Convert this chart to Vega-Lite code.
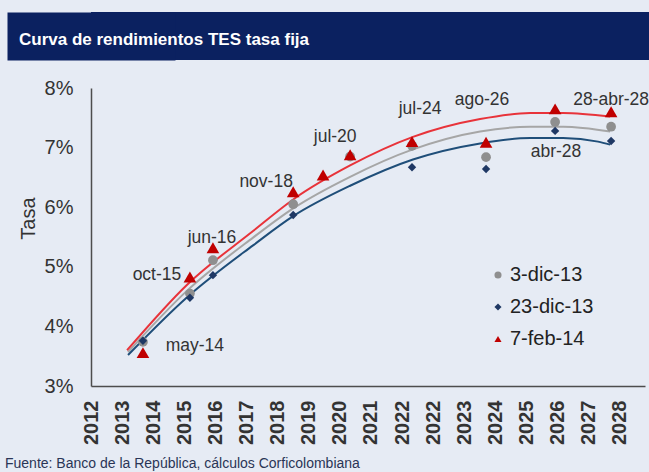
{
  "$schema": "https://vega.github.io/schema/vega-lite/v6.json",
  "background": "#e6ebf4",
  "padding": {"left": 5, "top": 12, "right": 0, "bottom": 0},
  "config": {"font": "Liberation Sans", "view": {"stroke": null}, "axis": {"labelOverlap": false}},
  "datasets": {
    "curvas": [
      {"serie": "3-dic-13", "x": 2013.19, "tasa": 3.57},
      {"serie": "3-dic-13", "x": 2015.09, "tasa": 4.60},
      {"serie": "3-dic-13", "x": 2017.21, "tasa": 5.49},
      {"serie": "3-dic-13", "x": 2018.50, "tasa": 5.98},
      {"serie": "3-dic-13", "x": 2020.33, "tasa": 6.51},
      {"serie": "3-dic-13", "x": 2022.35, "tasa": 6.97},
      {"serie": "3-dic-13", "x": 2024.51, "tasa": 7.27},
      {"serie": "3-dic-13", "x": 2026.12, "tasa": 7.35},
      {"serie": "3-dic-13", "x": 2027.18, "tasa": 7.35},
      {"serie": "3-dic-13", "x": 2028.69, "tasa": 7.27},
      {"serie": "23-dic-13", "x": 2013.19, "tasa": 3.52},
      {"serie": "23-dic-13", "x": 2015.09, "tasa": 4.49},
      {"serie": "23-dic-13", "x": 2017.21, "tasa": 5.36},
      {"serie": "23-dic-13", "x": 2018.50, "tasa": 5.85},
      {"serie": "23-dic-13", "x": 2020.33, "tasa": 6.36},
      {"serie": "23-dic-13", "x": 2022.35, "tasa": 6.80},
      {"serie": "23-dic-13", "x": 2024.51, "tasa": 7.07},
      {"serie": "23-dic-13", "x": 2026.12, "tasa": 7.16},
      {"serie": "23-dic-13", "x": 2027.18, "tasa": 7.16},
      {"serie": "23-dic-13", "x": 2028.30, "tasa": 7.10},
      {"serie": "23-dic-13", "x": 2028.69, "tasa": 7.05},
      {"serie": "7-feb-14", "x": 2013.16, "tasa": 3.60},
      {"serie": "7-feb-14", "x": 2015.09, "tasa": 4.70},
      {"serie": "7-feb-14", "x": 2017.21, "tasa": 5.60},
      {"serie": "7-feb-14", "x": 2018.50, "tasa": 6.13},
      {"serie": "7-feb-14", "x": 2020.33, "tasa": 6.70},
      {"serie": "7-feb-14", "x": 2022.35, "tasa": 7.18},
      {"serie": "7-feb-14", "x": 2024.51, "tasa": 7.48},
      {"serie": "7-feb-14", "x": 2026.12, "tasa": 7.58},
      {"serie": "7-feb-14", "x": 2027.18, "tasa": 7.58},
      {"serie": "7-feb-14", "x": 2028.69, "tasa": 7.52}
    ],
    "puntos": [
      {"serie": "3-dic-13", "x": 2013.67, "tasa": 3.74},
      {"serie": "3-dic-13", "x": 2015.18, "tasa": 4.55},
      {"serie": "3-dic-13", "x": 2015.92, "tasa": 5.11},
      {"serie": "3-dic-13", "x": 2018.50, "tasa": 6.05},
      {"serie": "3-dic-13", "x": 2020.33, "tasa": 6.85},
      {"serie": "3-dic-13", "x": 2022.32, "tasa": 7.03},
      {"serie": "3-dic-13", "x": 2024.70, "tasa": 6.84},
      {"serie": "3-dic-13", "x": 2026.92, "tasa": 7.43},
      {"serie": "3-dic-13", "x": 2028.72, "tasa": 7.35},
      {"serie": "23-dic-13", "x": 2013.67, "tasa": 3.76},
      {"serie": "23-dic-13", "x": 2015.18, "tasa": 4.48},
      {"serie": "23-dic-13", "x": 2015.92, "tasa": 4.86},
      {"serie": "23-dic-13", "x": 2018.50, "tasa": 5.87},
      {"serie": "23-dic-13", "x": 2022.32, "tasa": 6.67},
      {"serie": "23-dic-13", "x": 2024.70, "tasa": 6.64},
      {"serie": "23-dic-13", "x": 2026.92, "tasa": 7.28},
      {"serie": "23-dic-13", "x": 2028.72, "tasa": 7.11},
      {"serie": "7-feb-14", "x": 2013.67, "tasa": 3.56},
      {"serie": "7-feb-14", "x": 2015.18, "tasa": 4.83},
      {"serie": "7-feb-14", "x": 2015.92, "tasa": 5.32},
      {"serie": "7-feb-14", "x": 2018.50, "tasa": 6.26},
      {"serie": "7-feb-14", "x": 2019.46, "tasa": 6.54},
      {"serie": "7-feb-14", "x": 2020.33, "tasa": 6.88},
      {"serie": "7-feb-14", "x": 2022.32, "tasa": 7.10},
      {"serie": "7-feb-14", "x": 2024.70, "tasa": 7.09},
      {"serie": "7-feb-14", "x": 2026.92, "tasa": 7.65},
      {"serie": "7-feb-14", "x": 2028.72, "tasa": 7.60}
    ],
    "etiquetas": [
      {"etiqueta": "may-14", "x": 2015.34, "tasa": 3.67},
      {"etiqueta": "oct-15", "x": 2014.12, "tasa": 4.86},
      {"etiqueta": "jun-16", "x": 2015.89, "tasa": 5.48},
      {"etiqueta": "nov-18", "x": 2017.63, "tasa": 6.42},
      {"etiqueta": "jul-20", "x": 2019.85, "tasa": 7.18},
      {"etiqueta": "jul-24", "x": 2022.58, "tasa": 7.64},
      {"etiqueta": "ago-26", "x": 2024.57, "tasa": 7.80},
      {"etiqueta": "abr-28", "x": 2026.95, "tasa": 6.93},
      {"etiqueta": "28-abr-28", "x": 2028.72, "tasa": 7.80}
    ]
  },
  "spacing": 13,
  "resolve": {
    "scale": {"fill": "independent", "shape": "independent"},
    "legend": {"fill": "independent", "shape": "independent"}
  },
  "vconcat": [
    {
      "width": 558,
      "height": 48,
      "view": {"fill": "#0b2160", "stroke": null},
      "data": {"values": [{}]},
      "mark": {"type": "text", "text": ""},
      "encoding": {
        "y": {
          "datum": 0,
          "type": "quantitative",
          "scale": {"domain": [0, 1]},
          "axis": {
            "labels": false,
            "ticks": false,
            "grid": false,
            "title": null,
            "domainColor": "#0b2160",
            "domainWidth": 168,
            "domainCap": "butt"
          }
        }
      },
      "title": {
        "text": "Curva de rendimientos TES tasa fija",
        "orient": "top",
        "anchor": "start",
        "frame": "group",
        "offset": -37,
        "dx": -72,
        "color": "#ffffff",
        "fontSize": 17,
        "fontWeight": "bold",
        "font": "Liberation Sans",
        "zindex": 2
      }
    },
    {
      "width": 554,
      "height": 298,
      "title": {
        "text": "Fuente: Banco de la República, cálculos Corficolombiana",
        "orient": "bottom",
        "anchor": "start",
        "frame": "group",
        "dx": -86,
        "offset": 13,
        "fontSize": 14,
        "fontWeight": "normal",
        "color": "#2a3556",
        "font": "Liberation Sans"
      },
      "encoding": {
        "x": {
          "field": "x", "type": "quantitative",
          "scale": {"domain": [2012, 2029.81], "nice": false, "zero": false},
          "axis": {
            "values": [2012, 2013, 2014, 2015, 2016, 2017, 2018, 2019, 2020, 2021, 2022, 2023, 2024, 2025, 2026, 2027, 2028, 2029],
            "labelExpr": "datum.value > 2022 ? '' + (datum.value - 1) : '' + datum.value",
            "labelAngle": 270,
            "labelFontSize": 20,
            "labelFontWeight": "bold",
            "labelColor": "#333333",
            "labelPadding": 14,
            "ticks": false,
            "grid": false,
            "domainColor": "#4d4d4d",
            "domainWidth": 1.5,
            "title": null,
            "labelOverlap": false,
            "labelSeparation": 0,
            "labelFlush": false
          }
        },
        "y": {
          "field": "tasa", "type": "quantitative",
          "scale": {"domain": [3, 8], "nice": false, "zero": false},
          "axis": {
            "values": [3, 4, 5, 6, 7, 8],
            "labelExpr": "datum.value + '%'",
            "labelFontSize": 20,
            "labelColor": "#333333",
            "labelPadding": 18,
            "ticks": false,
            "grid": false,
            "domainColor": "#4d4d4d",
            "domainWidth": 1.5,
            "title": "Tasa",
            "titleFontSize": 20,
            "titleFontWeight": "normal",
            "titleColor": "#333333",
            "titlePadding": 6,
            "titleY": 130,
            "labelFlush": false,
            "labelOverlap": false
          }
        }
      },
      "layer": [
        {
          "data": {"name": "curvas"},
          "transform": [{"filter": "datum.serie === '3-dic-13'"}],
          "mark": {"type": "line", "strokeWidth": 2, "interpolate": "monotone", "color": "#a6a6a6"}
        },
        {
          "data": {"name": "curvas"},
          "transform": [{"filter": "datum.serie === '23-dic-13'"}],
          "mark": {"type": "line", "strokeWidth": 2, "interpolate": "monotone", "color": "#1f4e79"}
        },
        {
          "data": {"name": "curvas"},
          "transform": [{"filter": "datum.serie === '7-feb-14'"}],
          "mark": {"type": "line", "strokeWidth": 2, "interpolate": "monotone", "color": "#e8333a"}
        },
        {
          "data": {"name": "puntos"},
          "transform": [{"filter": "datum.serie === '3-dic-13'"}],
          "mark": {"type": "point", "filled": true, "opacity": 1, "size": 95},
          "encoding": {
            "fill": {
              "field": "serie", "type": "nominal",
              "scale": {"domain": ["3-dic-13", "23-dic-13", "7-feb-14"], "range": ["#8f8f8f", "#1f3864", "#c00000"]},
              "legend": {
                "title": null,
                "orient": "none",
                "legendX": 397,
                "legendY": 177,
                "labelFontSize": 20,
                "labelColor": "#222222",
                "symbolSize": 50,
                "rowPadding": 12,
                "labelOffset": 2
              }
            },
            "shape": {
              "field": "serie", "type": "nominal",
              "scale": {"domain": ["3-dic-13", "23-dic-13", "7-feb-14"], "range": ["circle", "diamond", "triangle-up"]},
              "legend": {
                "title": null,
                "orient": "none",
                "legendX": 397,
                "legendY": 177,
                "labelFontSize": 20,
                "labelColor": "#222222",
                "symbolSize": 50,
                "rowPadding": 12,
                "labelOffset": 2
              }
            }
          }
        },
        {
          "data": {"name": "puntos"},
          "transform": [{"filter": "datum.serie === '23-dic-13'"}],
          "mark": {"type": "point", "filled": true, "opacity": 1, "size": 70},
          "encoding": {
            "fill": {"field": "serie", "type": "nominal"},
            "shape": {"field": "serie", "type": "nominal"}
          }
        },
        {
          "data": {"name": "puntos"},
          "transform": [{"filter": "datum.serie === '7-feb-14'"}],
          "mark": {"type": "point", "filled": true, "opacity": 1, "size": 160},
          "encoding": {
            "fill": {"field": "serie", "type": "nominal"},
            "shape": {"field": "serie", "type": "nominal"}
          }
        },
        {
          "data": {"name": "etiquetas"},
          "mark": {"type": "text", "fontSize": 17.5, "color": "#333333", "align": "center", "baseline": "middle"},
          "encoding": {
            "text": {"field": "etiqueta"}
          }
        }
      ]
    }
  ]
}
